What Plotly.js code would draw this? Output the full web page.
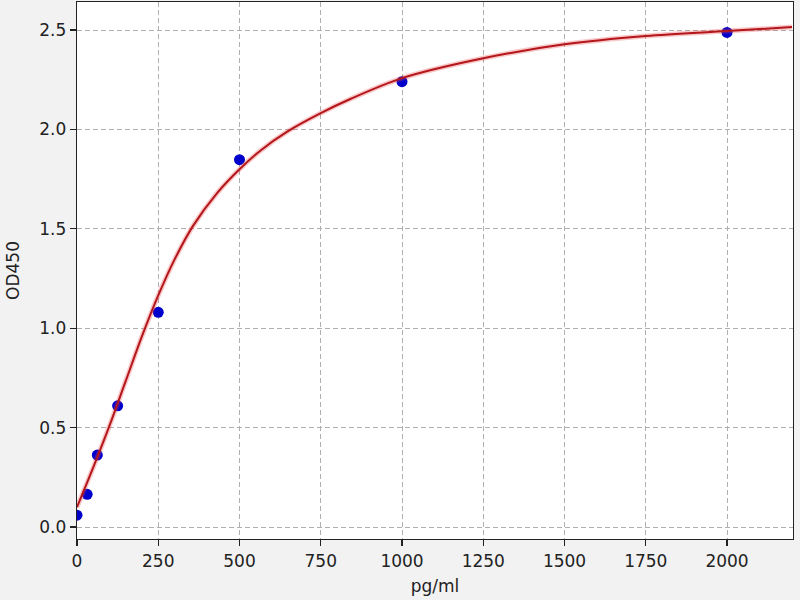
<!DOCTYPE html>
<html>
<head>
<meta charset="utf-8">
<script src="https://cdn.plot.ly/plotly-3.0.1.min.js"></script>
<style>
  html, body { margin: 0; padding: 0; background: #f2f2f2; }
  #chart { width: 800px; height: 600px; }
</style>
</head>
<body>
<div id="chart"></div>
<script>
// standards (measured points)
const concentration = [0, 31.25, 62.5, 125, 250, 500, 1000, 2000];
const od450 = [0.060, 0.165, 0.362, 0.610, 1.080, 1.848, 2.240, 2.488];

// fitted curve
const fitX = [0, 50, 100, 150, 200, 250, 300, 357, 431, 500, 564, 648, 750, 841, 1000, 1250, 1500, 1750, 2000, 2200];
const fitY = [0.100, 0.300, 0.510, 0.735, 0.960, 1.165, 1.345, 1.515, 1.680, 1.800, 1.893, 1.990, 2.082, 2.153, 2.258, 2.358, 2.428, 2.470, 2.495, 2.515];

const xTicks = [0, 250, 500, 750, 1000, 1250, 1500, 1750, 2000];
const yTicks = [0, 0.5, 1.0, 1.5, 2.0, 2.5];

const font = { family: 'DejaVu Sans, sans-serif', size: 17, color: '#222' };

const axisCommon = {
  showline: true,
  linecolor: '#222',
  linewidth: 1.3,
  mirror: true,
  ticks: 'outside',
  ticklen: 6,
  tickwidth: 1.2,
  tickcolor: '#222',
  showgrid: true,
  gridcolor: '#b0b0b0',
  gridwidth: 1,
  griddash: '5px,3px',
  zeroline: false,
  tickfont: font
};

Plotly.newPlot('chart', [
  {
    x: concentration,
    y: od450,
    mode: 'markers',
    type: 'scatter',
    marker: { color: '#0000cc', size: 11 },
    showlegend: false
  },
  {
    x: fitX,
    y: fitY,
    mode: 'lines',
    type: 'scatter',
    line: { color: 'rgba(235,70,70,0.3)', width: 5, shape: 'spline', smoothing: 0.9 },
    showlegend: false
  },
  {
    x: fitX,
    y: fitY,
    mode: 'lines',
    type: 'scatter',
    line: { color: '#b3161b', width: 2, shape: 'spline', smoothing: 0.9 },
    showlegend: false
  }
], {
  width: 800,
  height: 600,
  margin: { l: 77, r: 7, t: 2, b: 61 },
  paper_bgcolor: '#f2f2f2',
  plot_bgcolor: '#ffffff',
  font: font,
  xaxis: Object.assign({}, axisCommon, {
    range: [0, 2203],
    tickvals: xTicks,
    ticktext: xTicks.map(String),
    title: { text: 'pg/ml', font: font, standoff: 10 }
  }),
  yaxis: Object.assign({}, axisCommon, {
    range: [-0.06, 2.641],
    tickvals: yTicks,
    ticktext: yTicks.map(v => v.toFixed(1)),
    title: { text: 'OD450', font: font, standoff: 15 }
  })
}, { displayModeBar: false, staticPlot: true });
</script>
</body>
</html>
